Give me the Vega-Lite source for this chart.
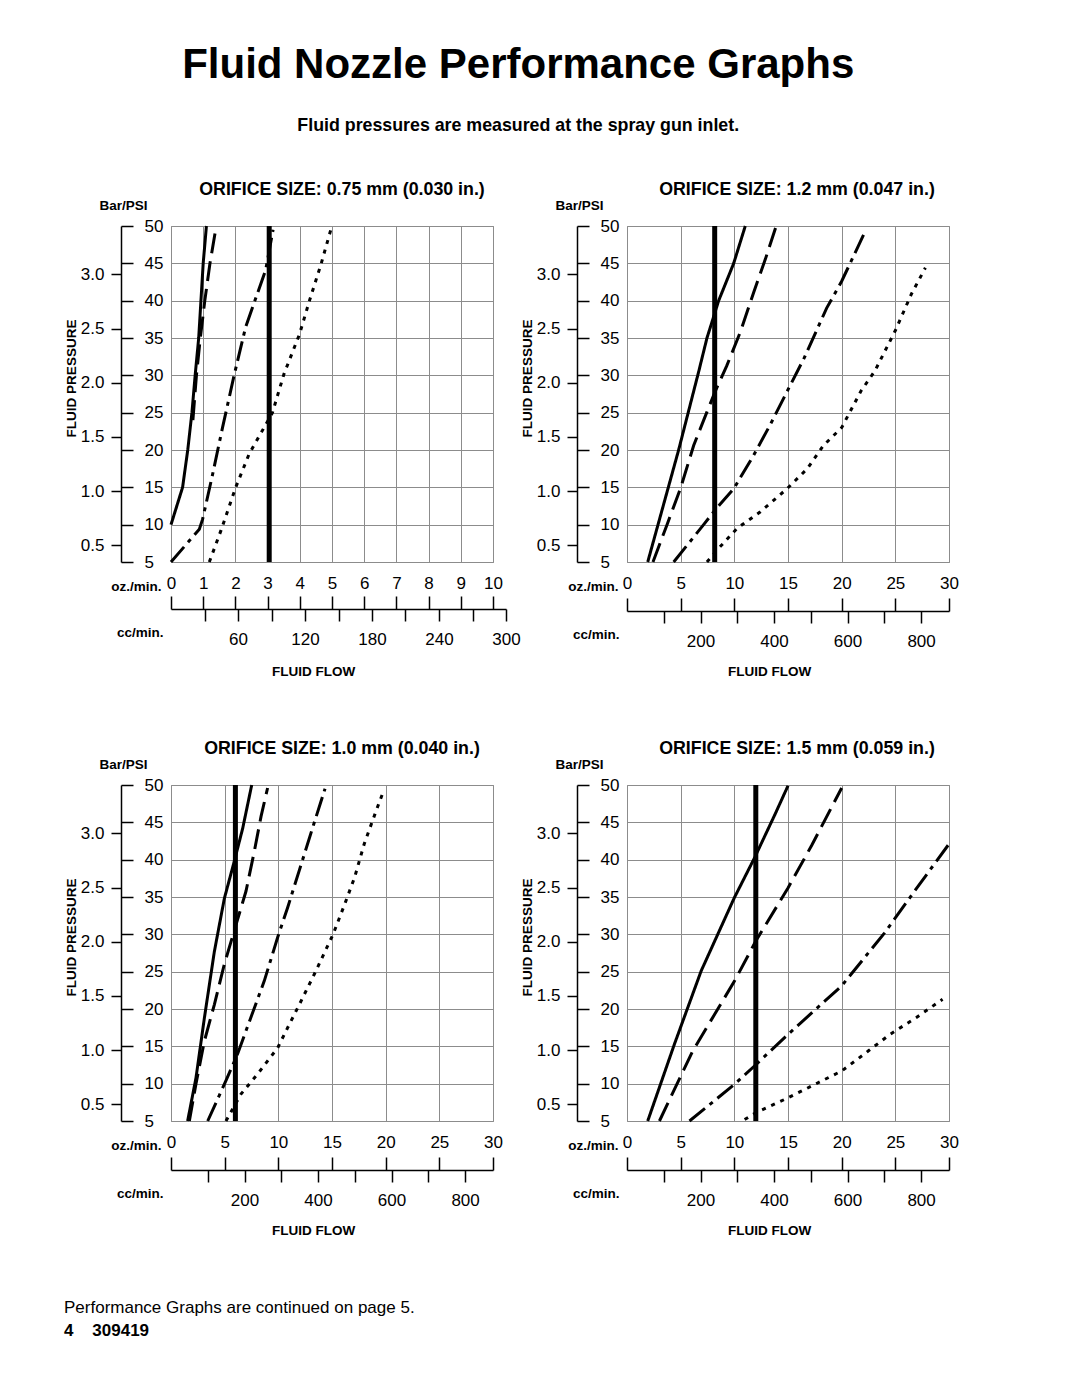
{
  "$schema": "https://vega.github.io/schema/vega-lite/v6.json",
  "background": "white",
  "padding": {"left": 63, "top": 43, "right": 5, "bottom": 5},
  "config": {
    "font": "Liberation Sans",
    "view": {"stroke": "#8c8c8c", "strokeWidth": 1},
    "axis": {
      "labelFont": "Liberation Sans", "labelFontSize": 17, "labelColor": "#000",
      "titleFont": "Liberation Sans", "titleFontSize": 13.5, "titleFontWeight": "bold", "titleColor": "#000",
      "tickColor": "#000", "tickWidth": 1.5, "domainColor": "#000", "domainWidth": 1.5,
      "gridColor": "#8c8c8c", "gridWidth": 1, "gridOpacity": 1,
      "labelFlush": false, "labelOverlap": false, "labelBound": false,
      "titleAlign": "center", "titleBaseline": "middle"
    },
    "title": {"font": "Liberation Sans", "color": "#000", "subtitleColor": "#000", "subtitleFont": "Liberation Sans"}
  },
  "title": {
    "text": "Fluid Nozzle Performance Graphs",
    "subtitle": "Fluid pressures are measured at the spray gun inlet.",
    "fontSize": 42, "fontWeight": "bold", "anchor": "middle", "dx": 7,
    "subtitleFontSize": 17.8, "subtitleFontWeight": "bold", "subtitlePadding": 30, "offset": 45
  },
  "spacing": 559,
  "bounds": "flush",
  "vconcat": [
    {
      "spacing": 134, "bounds": "flush",
      "hconcat": [
        {
          "width": 322, "height": 336,
          "title": {"text": "ORIFICE SIZE: 0.75 mm (0.030 in.)", "frame": "group", "dx": 10, "offset": -1, "fontSize": 17.8, "fontWeight": "bold"},
          "resolve": {"scale": {"x": "independent", "y": "independent"}, "axis": {"x": "independent", "y": "independent"}},
          "layer": [
            {
              "data": {"values": [
                {"curve": "A", "oz": 0, "psi": 10}, {"curve": "A", "oz": 0.36, "psi": 15}, {"curve": "A", "oz": 0.52, "psi": 20}, {"curve": "A", "oz": 0.65, "psi": 25}, {"curve": "A", "oz": 0.75, "psi": 30}, {"curve": "A", "oz": 0.86, "psi": 35}, {"curve": "A", "oz": 0.93, "psi": 40}, {"curve": "A", "oz": 1.0, "psi": 45}, {"curve": "A", "oz": 1.1, "psi": 50},
                {"curve": "B", "oz": 0.68, "psi": 24}, {"curve": "B", "oz": 0.79, "psi": 30}, {"curve": "B", "oz": 0.91, "psi": 35}, {"curve": "B", "oz": 1.05, "psi": 40}, {"curve": "B", "oz": 1.21, "psi": 45}, {"curve": "B", "oz": 1.39, "psi": 49.6},
                {"curve": "C", "oz": 0, "psi": 5}, {"curve": "C", "oz": 0.88, "psi": 9.4}, {"curve": "C", "oz": 0.98, "psi": 10.7}, {"curve": "C", "oz": 1.29, "psi": 16.7}, {"curve": "C", "oz": 1.6, "psi": 23}, {"curve": "C", "oz": 1.96, "psi": 30}, {"curve": "C", "oz": 2.32, "psi": 36.5}, {"curve": "C", "oz": 2.94, "psi": 44.1}, {"curve": "C", "oz": 3.17, "psi": 49.5},
                {"curve": "D", "oz": 1.19, "psi": 5}, {"curve": "D", "oz": 1.55, "psi": 9.2}, {"curve": "D", "oz": 2.01, "psi": 15}, {"curve": "D", "oz": 2.43, "psi": 19.5}, {"curve": "D", "oz": 2.89, "psi": 23}, {"curve": "D", "oz": 3.15, "psi": 25}, {"curve": "D", "oz": 3.51, "psi": 30.2}, {"curve": "D", "oz": 3.99, "psi": 35.5}, {"curve": "D", "oz": 4.3, "psi": 40}, {"curve": "D", "oz": 4.66, "psi": 44.9}, {"curve": "D", "oz": 4.97, "psi": 49.6}
              ]},
              "mark": {"type": "line", "color": "#000", "strokeWidth": 3, "strokeCap": "butt"},
              "encoding": {
                "x": {"field": "oz", "type": "quantitative", "scale": {"domain": [0, 10], "nice": false, "zero": false},
                  "axis": {"orient": "bottom", "values": [0,1,2,3,4,5,6,7,8,9,10], "ticks": false, "domain": false, "grid": true, "labelPadding": 13, "title": "oz./min.", "titleX": -10, "titleY": 24, "titleAlign": "right"}},
                "y": {"field": "psi", "type": "quantitative", "scale": {"domain": [5, 50], "nice": false, "zero": false},
                  "axis": {"orient": "left", "values": [5,10,15,20,25,30,35,40,45,50], "offset": 50, "domain": false, "tickSize": -12, "labelAlign": "left", "labelPadding": -11, "labelBaseline": "middle", "grid": true, "title": "FLUID PRESSURE", "titleAngle": 270, "titleX": -50, "titleY": 152}},
                "strokeDash": {"field": "curve", "type": "nominal", "scale": {"domain": ["A", "B", "C", "D"], "range": [[1, 0], [20, 8], [20, 6, 4, 6], [4, 6]]}, "legend": null},
                "order": {"field": "psi", "type": "quantitative"}
              }
            },
            {
              "data": {"values": [{"oz": 3.05}]},
              "mark": {"type": "rule", "color": "#000", "strokeWidth": 5},
              "encoding": {"x": {"field": "oz", "type": "quantitative", "scale": {"domain": [0, 10], "nice": false}, "axis": null}}
            },
            {
              "data": {"values": [{"bar": 0.5}, {"bar": 1.0}, {"bar": 1.5}, {"bar": 2.0}, {"bar": 2.5}, {"bar": 3.0}]},
              "mark": {"type": "point", "opacity": 0},
              "encoding": {
                "x": {"datum": 0, "type": "quantitative", "scale": {"domain": [0, 10], "nice": false},
                  "axis": {"orient": "bottom", "values": [0,1,2,3,4,5,6,7,8,9,10], "offset": 47, "domain": false, "labels": false, "tickSize": -13, "grid": false, "title": "FLUID FLOW", "titleX": 142, "titleY": 62}},
                "y": {"field": "bar", "type": "quantitative", "scale": {"domain": [0.3447, 3.4474], "nice": false, "zero": false},
                  "axis": {"orient": "left", "values": [0.5, 1.0, 1.5, 2.0, 2.5, 3.0], "format": ".1f", "offset": 50, "tickSize": 10, "labelPadding": 7, "labelBaseline": "middle", "grid": false, "domain": true, "title": "Bar/PSI", "titleAngle": 0, "titleX": 2, "titleY": -21}}
              }
            },
            {
              "data": {"values": [{"cc": 0}]},
              "mark": {"type": "point", "opacity": 0},
              "encoding": {
                "x": {"field": "cc", "type": "quantitative", "scale": {"domain": [0, 300], "range": [0, 335], "nice": false},
                  "axis": {"orient": "bottom", "values": [30,60,90,120,150,180,210,240,270,300], "offset": 47, "tickSize": 12, "labelPadding": 10, "labelExpr": "datum.value % 60 === 0 ? datum.label : ''", "grid": false, "domain": true, "title": "cc/min.", "titleX": -8, "titleY": 23, "titleAlign": "right"}}
              }
            }
          ]
        },
        {
          "width": 322, "height": 336,
          "title": {"text": "ORIFICE SIZE: 1.2 mm (0.047 in.)", "frame": "group", "dx": 9, "offset": -1, "fontSize": 17.8, "fontWeight": "bold"},
          "resolve": {"scale": {"x": "independent", "y": "independent"}, "axis": {"x": "independent", "y": "independent"}},
          "layer": [
            {
              "data": {"values": [
                {"curve": "A", "oz": 1.93, "psi": 5}, {"curve": "A", "oz": 4.81, "psi": 20}, {"curve": "A", "oz": 6.68, "psi": 30.5}, {"curve": "A", "oz": 7.45, "psi": 35}, {"curve": "A", "oz": 8.54, "psi": 40}, {"curve": "A", "oz": 9.94, "psi": 45}, {"curve": "A", "oz": 11.02, "psi": 50},
                {"curve": "B", "oz": 2.42, "psi": 5}, {"curve": "B", "oz": 3.73, "psi": 10}, {"curve": "B", "oz": 4.97, "psi": 14.8}, {"curve": "B", "oz": 6.21, "psi": 20.6}, {"curve": "B", "oz": 7.45, "psi": 25.1}, {"curve": "B", "oz": 8.2, "psi": 27.8}, {"curve": "B", "oz": 9.3, "psi": 31.3}, {"curve": "B", "oz": 10.56, "psi": 35.8}, {"curve": "B", "oz": 11.8, "psi": 41.1}, {"curve": "B", "oz": 12.9, "psi": 45.6}, {"curve": "B", "oz": 13.9, "psi": 50},
                {"curve": "C", "oz": 4.35, "psi": 5}, {"curve": "C", "oz": 7.14, "psi": 10}, {"curve": "C", "oz": 8.23, "psi": 12}, {"curve": "C", "oz": 9.94, "psi": 14.8}, {"curve": "C", "oz": 11.8, "psi": 19.3}, {"curve": "C", "oz": 13.35, "psi": 23.4}, {"curve": "C", "oz": 14.9, "psi": 27.8}, {"curve": "C", "oz": 16.5, "psi": 32.3}, {"curve": "C", "oz": 18.6, "psi": 39}, {"curve": "C", "oz": 20.0, "psi": 42.6}, {"curve": "C", "oz": 22.2, "psi": 49.3},
                {"curve": "D", "oz": 7.45, "psi": 5}, {"curve": "D", "oz": 8.39, "psi": 6.6}, {"curve": "D", "oz": 10.25, "psi": 9.5}, {"curve": "D", "oz": 12.4, "psi": 11.7}, {"curve": "D", "oz": 14.9, "psi": 14.8}, {"curve": "D", "oz": 16.8, "psi": 17.5}, {"curve": "D", "oz": 18.3, "psi": 20.6}, {"curve": "D", "oz": 20.0, "psi": 23}, {"curve": "D", "oz": 21.8, "psi": 27.9}, {"curve": "D", "oz": 23.1, "psi": 30.6}, {"curve": "D", "oz": 25.0, "psi": 36}, {"curve": "D", "oz": 26.5, "psi": 40.9}, {"curve": "D", "oz": 27.8, "psi": 44.4}
              ]},
              "mark": {"type": "line", "color": "#000", "strokeWidth": 3, "strokeCap": "butt"},
              "encoding": {
                "x": {"field": "oz", "type": "quantitative", "scale": {"domain": [0, 30], "nice": false, "zero": false},
                  "axis": {"orient": "bottom", "values": [0,5,10,15,20,25,30], "ticks": false, "domain": false, "grid": true, "labelPadding": 13, "title": "oz./min.", "titleX": -9, "titleY": 24, "titleAlign": "right"}},
                "y": {"field": "psi", "type": "quantitative", "scale": {"domain": [5, 50], "nice": false, "zero": false},
                  "axis": {"orient": "left", "values": [5,10,15,20,25,30,35,40,45,50], "offset": 50, "domain": false, "tickSize": -12, "labelAlign": "left", "labelPadding": -11, "labelBaseline": "middle", "grid": true, "title": "FLUID PRESSURE", "titleAngle": 270, "titleX": -50, "titleY": 152}},
                "strokeDash": {"field": "curve", "type": "nominal", "scale": {"domain": ["A", "B", "C", "D"], "range": [[1, 0], [20, 8], [20, 6, 4, 6], [4, 6]]}, "legend": null},
                "order": {"field": "psi", "type": "quantitative"}
              }
            },
            {
              "data": {"values": [{"oz": 8.17}]},
              "mark": {"type": "rule", "color": "#000", "strokeWidth": 5},
              "encoding": {"x": {"field": "oz", "type": "quantitative", "scale": {"domain": [0, 30], "nice": false}, "axis": null}}
            },
            {
              "data": {"values": [{"bar": 0.5}, {"bar": 1.0}, {"bar": 1.5}, {"bar": 2.0}, {"bar": 2.5}, {"bar": 3.0}]},
              "mark": {"type": "point", "opacity": 0},
              "encoding": {
                "x": {"datum": 0, "type": "quantitative", "scale": {"domain": [0, 30], "nice": false},
                  "axis": {"orient": "bottom", "values": [0,5,10,15,20,25,30], "offset": 49, "domain": false, "labels": false, "tickSize": -13, "grid": false, "title": "FLUID FLOW", "titleX": 142, "titleY": 60}},
                "y": {"field": "bar", "type": "quantitative", "scale": {"domain": [0.3447, 3.4474], "nice": false, "zero": false},
                  "axis": {"orient": "left", "values": [0.5, 1.0, 1.5, 2.0, 2.5, 3.0], "format": ".1f", "offset": 50, "tickSize": 10, "labelPadding": 7, "labelBaseline": "middle", "grid": false, "domain": true, "title": "Bar/PSI", "titleAngle": 0, "titleX": 2, "titleY": -21}}
              }
            },
            {
              "data": {"values": [{"cc": 0}]},
              "mark": {"type": "point", "opacity": 0},
              "encoding": {
                "x": {"field": "cc", "type": "quantitative", "scale": {"domain": [0, 876], "nice": false},
                  "axis": {"orient": "bottom", "values": [100,200,300,400,500,600,700,800], "offset": 49, "tickSize": 12, "labelPadding": 10, "labelExpr": "datum.value % 200 === 0 ? datum.label : ''", "grid": false, "domain": true, "title": "cc/min.", "titleX": -8, "titleY": 23, "titleAlign": "right"}}
              }
            }
          ]
        }
      ]
    },
    {
      "spacing": 134, "bounds": "flush",
      "hconcat": [
        {
          "width": 322, "height": 336,
          "title": {"text": "ORIFICE SIZE: 1.0 mm (0.040 in.)", "frame": "group", "dx": 10, "offset": -1, "fontSize": 17.8, "fontWeight": "bold"},
          "resolve": {"scale": {"x": "independent", "y": "independent"}, "axis": {"x": "independent", "y": "independent"}},
          "layer": [
            {
              "data": {"values": [
                {"curve": "A", "oz": 1.55, "psi": 5}, {"curve": "A", "oz": 2.33, "psi": 10.8}, {"curve": "A", "oz": 3.11, "psi": 18.8}, {"curve": "A", "oz": 4.04, "psi": 27.7}, {"curve": "A", "oz": 4.97, "psi": 34.8}, {"curve": "A", "oz": 5.9, "psi": 39.8}, {"curve": "A", "oz": 6.68, "psi": 44.2}, {"curve": "A", "oz": 7.52, "psi": 50},
                {"curve": "B", "oz": 1.71, "psi": 5}, {"curve": "B", "oz": 2.33, "psi": 10}, {"curve": "B", "oz": 3.11, "psi": 15.7}, {"curve": "B", "oz": 4.04, "psi": 20.6}, {"curve": "B", "oz": 4.97, "psi": 26}, {"curve": "B", "oz": 6.06, "psi": 31.3}, {"curve": "B", "oz": 6.99, "psi": 35.8}, {"curve": "B", "oz": 7.76, "psi": 41.1}, {"curve": "B", "oz": 8.39, "psi": 45.8}, {"curve": "B", "oz": 9.0, "psi": 49.6},
                {"curve": "C", "oz": 3.42, "psi": 5}, {"curve": "C", "oz": 5.12, "psi": 10.4}, {"curve": "C", "oz": 6.21, "psi": 14}, {"curve": "C", "oz": 7.45, "psi": 18.9}, {"curve": "C", "oz": 8.7, "psi": 23.8}, {"curve": "C", "oz": 9.94, "psi": 29.6}, {"curve": "C", "oz": 10.87, "psi": 33.6}, {"curve": "C", "oz": 11.96, "psi": 38.6}, {"curve": "C", "oz": 13.2, "psi": 44.3}, {"curve": "C", "oz": 14.35, "psi": 49.5},
                {"curve": "D", "oz": 5.12, "psi": 5}, {"curve": "D", "oz": 6.52, "psi": 8.6}, {"curve": "D", "oz": 8.07, "psi": 11.3}, {"curve": "D", "oz": 9.94, "psi": 14.8}, {"curve": "D", "oz": 10.87, "psi": 17.5}, {"curve": "D", "oz": 11.96, "psi": 20.6}, {"curve": "D", "oz": 13.5, "psi": 25.1}, {"curve": "D", "oz": 15.1, "psi": 30}, {"curve": "D", "oz": 16.2, "psi": 34.1}, {"curve": "D", "oz": 17.1, "psi": 37.6}, {"curve": "D", "oz": 18.0, "psi": 42.1}, {"curve": "D", "oz": 19.0, "psi": 46.1}, {"curve": "D", "oz": 19.8, "psi": 49.2}
              ]},
              "mark": {"type": "line", "color": "#000", "strokeWidth": 3, "strokeCap": "butt"},
              "encoding": {
                "x": {"field": "oz", "type": "quantitative", "scale": {"domain": [0, 30], "nice": false, "zero": false},
                  "axis": {"orient": "bottom", "values": [0,5,10,15,20,25,30], "ticks": false, "domain": false, "grid": true, "labelPadding": 13, "title": "oz./min.", "titleX": -10, "titleY": 24, "titleAlign": "right"}},
                "y": {"field": "psi", "type": "quantitative", "scale": {"domain": [5, 50], "nice": false, "zero": false},
                  "axis": {"orient": "left", "values": [5,10,15,20,25,30,35,40,45,50], "offset": 50, "domain": false, "tickSize": -12, "labelAlign": "left", "labelPadding": -11, "labelBaseline": "middle", "grid": true, "title": "FLUID PRESSURE", "titleAngle": 270, "titleX": -50, "titleY": 152}},
                "strokeDash": {"field": "curve", "type": "nominal", "scale": {"domain": ["A", "B", "C", "D"], "range": [[1, 0], [20, 8], [20, 6, 4, 6], [4, 6]]}, "legend": null},
                "order": {"field": "psi", "type": "quantitative"}
              }
            },
            {
              "data": {"values": [{"oz": 6.0}]},
              "mark": {"type": "rule", "color": "#000", "strokeWidth": 5},
              "encoding": {"x": {"field": "oz", "type": "quantitative", "scale": {"domain": [0, 30], "nice": false}, "axis": null}}
            },
            {
              "data": {"values": [{"bar": 0.5}, {"bar": 1.0}, {"bar": 1.5}, {"bar": 2.0}, {"bar": 2.5}, {"bar": 3.0}]},
              "mark": {"type": "point", "opacity": 0},
              "encoding": {
                "x": {"datum": 0, "type": "quantitative", "scale": {"domain": [0, 30], "nice": false},
                  "axis": {"orient": "bottom", "values": [0,5,10,15,20,25,30], "offset": 49, "domain": false, "labels": false, "tickSize": -13, "grid": false, "title": "FLUID FLOW", "titleX": 142, "titleY": 60}},
                "y": {"field": "bar", "type": "quantitative", "scale": {"domain": [0.3447, 3.4474], "nice": false, "zero": false},
                  "axis": {"orient": "left", "values": [0.5, 1.0, 1.5, 2.0, 2.5, 3.0], "format": ".1f", "offset": 50, "tickSize": 10, "labelPadding": 7, "labelBaseline": "middle", "grid": false, "domain": true, "title": "Bar/PSI", "titleAngle": 0, "titleX": 2, "titleY": -21}}
              }
            },
            {
              "data": {"values": [{"cc": 0}]},
              "mark": {"type": "point", "opacity": 0},
              "encoding": {
                "x": {"field": "cc", "type": "quantitative", "scale": {"domain": [0, 876], "nice": false},
                  "axis": {"orient": "bottom", "values": [100,200,300,400,500,600,700,800], "offset": 49, "tickSize": 12, "labelPadding": 10, "labelExpr": "datum.value % 200 === 0 ? datum.label : ''", "grid": false, "domain": true, "title": "cc/min.", "titleX": -8, "titleY": 23, "titleAlign": "right"}}
              }
            }
          ]
        },
        {
          "width": 322, "height": 336,
          "title": {"text": "ORIFICE SIZE: 1.5 mm (0.059 in.)", "frame": "group", "dx": 9, "offset": -1, "fontSize": 17.8, "fontWeight": "bold"},
          "resolve": {"scale": {"x": "independent", "y": "independent"}, "axis": {"x": "independent", "y": "independent"}},
          "layer": [
            {
              "data": {"values": [
                {"curve": "A", "oz": 1.93, "psi": 5}, {"curve": "A", "oz": 4.42, "psi": 15.3}, {"curve": "A", "oz": 6.91, "psi": 25.1}, {"curve": "A", "oz": 10.0, "psi": 34.9}, {"curve": "A", "oz": 11.9, "psi": 40.3}, {"curve": "A", "oz": 13.8, "psi": 46.1}, {"curve": "A", "oz": 15.0, "psi": 49.9},
                {"curve": "B", "oz": 3.02, "psi": 5}, {"curve": "B", "oz": 6.13, "psi": 14.4}, {"curve": "B", "oz": 10.0, "psi": 23.7}, {"curve": "B", "oz": 12.0, "psi": 29.1}, {"curve": "B", "oz": 15.0, "psi": 36.2}, {"curve": "B", "oz": 17.2, "psi": 41.9}, {"curve": "B", "oz": 20.0, "psi": 49.6},
                {"curve": "C", "oz": 5.82, "psi": 5}, {"curve": "C", "oz": 10.0, "psi": 9.9}, {"curve": "C", "oz": 11.9, "psi": 12.4}, {"curve": "C", "oz": 15.0, "psi": 16.6}, {"curve": "C", "oz": 20.0, "psi": 23.1}, {"curve": "C", "oz": 24.0, "psi": 30.2}, {"curve": "C", "oz": 26.8, "psi": 35.8}, {"curve": "C", "oz": 30.0, "psi": 42.1},
                {"curve": "D", "oz": 10.96, "psi": 5.2}, {"curve": "D", "oz": 12.0, "psi": 6.1}, {"curve": "D", "oz": 15.0, "psi": 8.1}, {"curve": "D", "oz": 17.5, "psi": 9.9}, {"curve": "D", "oz": 20.0, "psi": 11.7}, {"curve": "D", "oz": 22.5, "psi": 14.4}, {"curve": "D", "oz": 24.5, "psi": 16.6}, {"curve": "D", "oz": 27.0, "psi": 18.9}, {"curve": "D", "oz": 29.4, "psi": 21.3}
              ]},
              "mark": {"type": "line", "color": "#000", "strokeWidth": 3, "strokeCap": "butt"},
              "encoding": {
                "x": {"field": "oz", "type": "quantitative", "scale": {"domain": [0, 30], "nice": false, "zero": false},
                  "axis": {"orient": "bottom", "values": [0,5,10,15,20,25,30], "ticks": false, "domain": false, "grid": true, "labelPadding": 13, "title": "oz./min.", "titleX": -9, "titleY": 24, "titleAlign": "right"}},
                "y": {"field": "psi", "type": "quantitative", "scale": {"domain": [5, 50], "nice": false, "zero": false},
                  "axis": {"orient": "left", "values": [5,10,15,20,25,30,35,40,45,50], "offset": 50, "domain": false, "tickSize": -12, "labelAlign": "left", "labelPadding": -11, "labelBaseline": "middle", "grid": true, "title": "FLUID PRESSURE", "titleAngle": 270, "titleX": -50, "titleY": 152}},
                "strokeDash": {"field": "curve", "type": "nominal", "scale": {"domain": ["A", "B", "C", "D"], "range": [[1, 0], [20, 8], [20, 6, 4, 6], [4, 6]]}, "legend": null},
                "order": {"field": "psi", "type": "quantitative"}
              }
            },
            {
              "data": {"values": [{"oz": 12.0}]},
              "mark": {"type": "rule", "color": "#000", "strokeWidth": 5},
              "encoding": {"x": {"field": "oz", "type": "quantitative", "scale": {"domain": [0, 30], "nice": false}, "axis": null}}
            },
            {
              "data": {"values": [{"bar": 0.5}, {"bar": 1.0}, {"bar": 1.5}, {"bar": 2.0}, {"bar": 2.5}, {"bar": 3.0}]},
              "mark": {"type": "point", "opacity": 0},
              "encoding": {
                "x": {"datum": 0, "type": "quantitative", "scale": {"domain": [0, 30], "nice": false},
                  "axis": {"orient": "bottom", "values": [0,5,10,15,20,25,30], "offset": 49, "domain": false, "labels": false, "tickSize": -13, "grid": false, "title": "FLUID FLOW", "titleX": 142, "titleY": 60}},
                "y": {"field": "bar", "type": "quantitative", "scale": {"domain": [0.3447, 3.4474], "nice": false, "zero": false},
                  "axis": {"orient": "left", "values": [0.5, 1.0, 1.5, 2.0, 2.5, 3.0], "format": ".1f", "offset": 50, "tickSize": 10, "labelPadding": 7, "labelBaseline": "middle", "grid": false, "domain": true, "title": "Bar/PSI", "titleAngle": 0, "titleX": 2, "titleY": -21}}
              }
            },
            {
              "data": {"values": [{"cc": 0}]},
              "mark": {"type": "point", "opacity": 0},
              "encoding": {
                "x": {"field": "cc", "type": "quantitative", "scale": {"domain": [0, 876], "nice": false},
                  "axis": {"orient": "bottom", "values": [100,200,300,400,500,600,700,800], "offset": 49, "tickSize": 12, "labelPadding": 10, "labelExpr": "datum.value % 200 === 0 ? datum.label : ''", "grid": false, "domain": true, "title": "cc/min.", "titleX": -8, "titleY": 23, "titleAlign": "right"}}
              }
            }
          ]
        }
      ]
    },
    {
      "width": 322, "height": 10,
      "data": {"values": [{"note": ""}]},
      "mark": {"type": "text", "text": ""},
      "view": {"stroke": null},
      "title": {
        "text": "Performance Graphs are continued on page 5.",
        "subtitle": "4\u00a0\u00a0\u00a0\u00a0309419",
        "anchor": "start", "frame": "group", "dx": -107, "offset": 3,
        "fontSize": 17, "fontWeight": "normal",
        "subtitleFontSize": 17, "subtitleFontWeight": "bold", "subtitlePadding": 6
      }
    }
  ]
}
